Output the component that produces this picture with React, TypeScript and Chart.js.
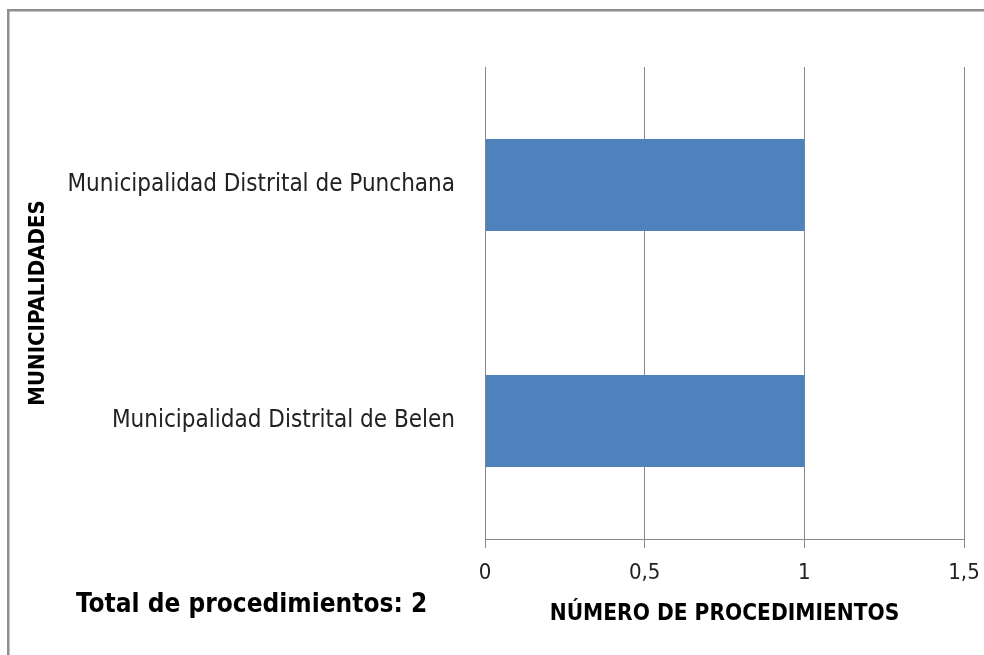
import React, { useEffect, useRef } from "react";
import { Chart, registerables } from "chart.js";

Chart.register(...registerables);

const categories: string[] = [
  "Municipalidad Distrital de Punchana",
  "Municipalidad Distrital de Belen",
];
const procedimientos: number[] = [1, 1];
const xTicks: number[] = [0, 0.5, 1, 1.5];
const totalLabel = "Total de procedimientos: 2";
const xTitle = "NÚMERO DE PROCEDIMIENTOS";
const yTitle = "MUNICIPALIDADES";

const FONT = "'DejaVu Sans Condensed', 'DejaVu Sans', sans-serif";

const framePlugin = {
  id: "framePlugin",
  beforeDraw(chart: any) {
    const ctx = chart.ctx;
    ctx.save();
    ctx.fillStyle = "#ffffff";
    ctx.fillRect(0, 0, chart.width, chart.height);
    ctx.fillStyle = "#8e8e8e";
    ctx.fillRect(7, 9, chart.width, 2.5);
    ctx.fillRect(7, 9, 2.5, chart.height);
    ctx.restore();
  },
  afterDraw(chart: any) {
    const ctx = chart.ctx;
    ctx.save();
    ctx.font = `bold 26px ${FONT}`;
    ctx.fillStyle = "#000000";
    ctx.textAlign = "left";
    ctx.textBaseline = "middle";
    ctx.fillText(totalLabel, 76, 605);
    ctx.restore();
  },
};

export default function App() {
  const ref = useRef<HTMLCanvasElement | null>(null);
  useEffect(() => {
    if (!ref.current) return;
    const chart = new Chart(ref.current, {
      type: "bar",
      data: {
        labels: categories,
        datasets: [
          {
            data: procedimientos,
            backgroundColor: "#4F81BD",
            borderWidth: 0,
            barPercentage: 0.39,
            categoryPercentage: 1,
          },
        ],
      },
      options: {
        indexAxis: "y",
        animation: false,
        responsive: false,
        maintainAspectRatio: false,
        layout: { padding: { left: 0, top: 67, right: 20, bottom: 0 } },
        plugins: {
          legend: { display: false },
          tooltip: { enabled: false },
        },
        scales: {
          x: {
            type: "linear",
            min: xTicks[0],
            max: xTicks[xTicks.length - 1],
            afterFit(scale: any) {
              scale.height = 116;
              scale.paddingRight = 0;
              scale.paddingLeft = 0;
            },
            afterBuildTicks(scale: any) {
              scale.ticks = xTicks.map((v) => ({ value: v }));
            },
            ticks: {
              padding: 12,
              color: "#222222",
              font: { family: FONT, size: 22 },
              callback: (v: any) => String(v).replace(".", ","),
            },
            grid: {
              color: "#888888",
              lineWidth: 1,
              tickLength: 9,
              drawTicks: true,
            },
            border: { color: "#888888", width: 1 },
            title: {
              display: true,
              text: xTitle,
              color: "#000000",
              font: { family: FONT, size: 22.5, weight: "bold" },
              padding: { top: 0, bottom: 27 },
            },
          },
          y: {
            afterFit(scale: any) {
              scale.width = 485;
            },
            grid: { display: false, drawTicks: false },
            border: { display: false },
            ticks: {
              padding: 30,
              color: "#222222",
              font: { family: FONT, size: 24 },
            },
            title: {
              display: true,
              text: yTitle,
              color: "#000000",
              font: { family: FONT, size: 22, weight: "bold" },
              padding: { top: 25, bottom: 0 },
            },
          },
        },
      },
      plugins: [framePlugin],
    });
    return () => chart.destroy();
  }, []);
  return (
    <div style={{ position: "absolute", left: 0, top: 0, width: 984, height: 655 }}>
      <canvas ref={ref} width={984} height={655} style={{ display: "block" }} />
    </div>
  );
}
